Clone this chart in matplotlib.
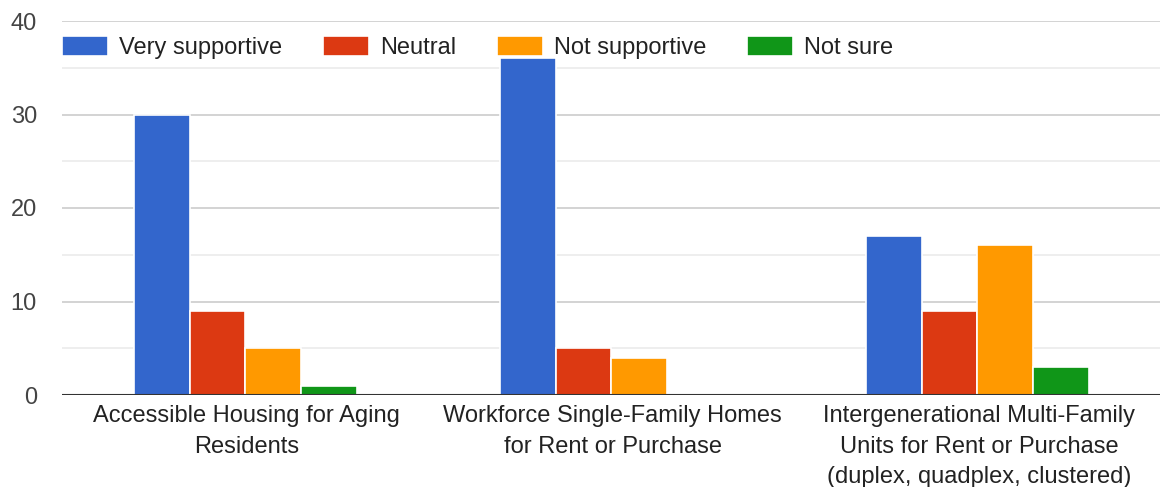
import matplotlib
matplotlib.use("Agg")
import matplotlib.pyplot as plt
import numpy as np

plt.rcParams['font.family'] = ['Liberation Sans', 'DejaVu Sans']

categories = ["Accessible Housing for Aging\nResidents",
              "Workforce Single-Family Homes\nfor Rent or Purchase",
              "Intergenerational Multi-Family\nUnits for Rent or Purchase\n(duplex, quadplex, clustered)"]
series_names = ["Very supportive", "Neutral", "Not supportive", "Not sure"]
very_supportive = [30, 36, 17]
neutral = [9, 5, 9]
not_supportive = [5, 4, 16]
not_sure = [1, 0, 3]
colors = ["#3366cc", "#dc3912", "#ff9900", "#109618"]

values = [very_supportive, neutral, not_supportive, not_sure]

fig = plt.figure(figsize=(11.6, 4.87), dpi=100)
ax = fig.add_axes([62/1160, 1-395/487, 1-62/1160, (395-21)/487])

x = np.arange(len(categories))
step = 0.152
for i, (name, vals, c) in enumerate(zip(series_names, values, colors)):
    ax.bar(x + (i - 1.5) * step - 0.004, vals, width=step, color=c, edgecolor='white',
           linewidth=1.2, label=name, zorder=3)

ax.set_xlim(-0.505, 2.495)
ax.set_ylim(0, 40)
ax.set_yticks([0, 10, 20, 30, 40])
ax.set_yticks([5, 15, 25, 35], minor=True)
ax.grid(axis='y', which='major', color='#cccccc', linewidth=1.2, zorder=0)
ax.grid(axis='y', which='minor', color='#ebebeb', linewidth=1.2, zorder=0)
ax.axhline(0, color='#333333', linewidth=1.5, zorder=4)
for s in ax.spines.values():
    s.set_visible(False)
ax.tick_params(axis='both', which='both', length=0)
ax.tick_params(axis='y', labelsize=17, labelcolor='#444444', pad=18)
ax.set_xticks(x)
ax.set_xticklabels(categories, fontsize=17, color='#222222', linespacing=1.52)
ax.tick_params(axis='x', pad=7)

leg = ax.legend(loc='upper left', bbox_to_anchor=(0.0, 0.96), ncol=4, frameon=False,
                fontsize=17, handlelength=1.95, handleheight=0.93, handletextpad=0.47,
                columnspacing=1.72, borderaxespad=0, borderpad=0)
for t in leg.get_texts():
    t.set_color('#222222')

fig.savefig("out.png", dpi=100, facecolor='white')
